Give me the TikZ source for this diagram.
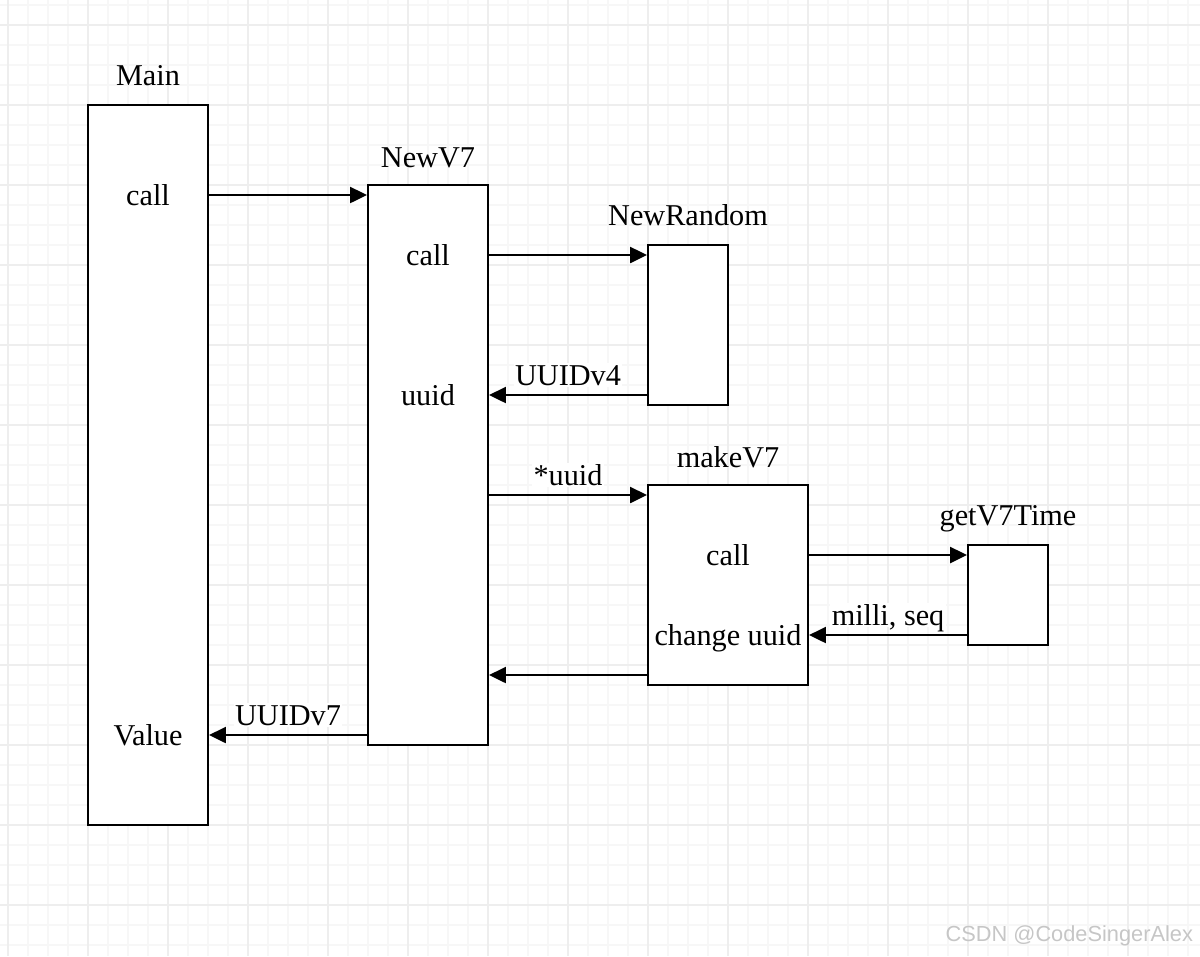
\documentclass[tikz,border=0pt]{standalone}
\usepackage{fontspec}
\setmainfont{Liberation Serif}
\setsansfont{Liberation Sans}
\usetikzlibrary{arrows.meta,positioning}

\tikzset{
    box/.style={draw, line width=1.5pt, fill=white, inner sep=0pt},
    txt/.style={font=\fontsize{21.5}{25}\selectfont, inner sep=1pt, text height=15pt, text depth=0pt},
    elabel/.style={txt, fill=white, above=5pt},
    flow/.style={line width=1.5pt, -{Triangle[length=0.42cm,width=0.4cm]}},
    minorline/.style={gray!6, line width=1pt},
    majorline/.style={gray!13, line width=1.2pt},
}

\begin{document}
\begin{tikzpicture}[x=0.025cm, y=-0.025cm]
    \useasboundingbox (0,0) rectangle (1200,956);
    % grid
    \foreach \x in {8,28,...,1188} \draw[minorline] (\x,0) -- (\x,956);
    \foreach \y in {5,25,...,945} \draw[minorline] (0,\y) -- (1200,\y);
    \foreach \x in {8,88,...,1168} \draw[majorline] (\x,0) -- (\x,956);
    \foreach \y in {25,105,...,905} \draw[majorline] (0,\y) -- (1200,\y);

    % boxes
    \node[box, minimum width=3cm, minimum height=18cm] (main) at (148,465) {};
    \node[box, minimum width=3cm, minimum height=14cm] (newv7) at (428,465) {};
    \node[box, minimum width=2cm, minimum height=4cm] (newrand) at (688,325) {};
    \node[box, minimum width=4cm, minimum height=5cm] (makev7) at (728,585) {};
    \node[box, minimum width=2cm, minimum height=2.5cm] (getv7) at (1008,595) {};

    % titles
    \node[txt] (tmain) at (148,75) {Main};
    \node[txt] (tnewv7) at (428,157) {NewV7};
    \node[txt] (tnewrand) at (688,215) {NewRandom};
    \node[txt] (tmakev7) at (728,457) {makeV7};
    \node[txt] (tgetv7) at (1008,515) {getV7Time};

    % texts inside
    \node[txt] (mcall) at (148,195) {call};
    \node[txt] (mvalue) at (148,735) {Value};
    \node[txt] (vcall) at (428,255) {call};
    \node[txt] (vuuid) at (428,395) {uuid};
    \node[txt] (kcall) at (728,555) {call};
    \node[txt] (kchange) at (728,635) {change uuid};
    \coordinate (vsend) at (428,495);
    \coordinate (kret) at (728,675);

    % calls and returns
    \draw[flow] (main.east |- mcall) -- (newv7.west |- mcall);
    \draw[flow] (newv7.east |- vcall) -- (newrand.west |- vcall);
    \draw[flow] (newrand.west |- vuuid) -- node[elabel] {UUIDv4} (newv7.east |- vuuid);
    \draw[flow] (newv7.east |- vsend) -- node[elabel] {*uuid} (makev7.west |- vsend);
    \draw[flow] (makev7.east |- kcall) -- (getv7.west |- kcall);
    \draw[flow] (getv7.west |- kchange) -- node[elabel] {milli, seq} (makev7.east |- kchange);
    \draw[flow] (makev7.west |- kret) -- (newv7.east |- kret);
    \draw[flow] (newv7.west |- mvalue) -- node[elabel] {UUIDv7} (main.east |- mvalue);

    \node[font=\fontsize{15.5}{18}\selectfont\sffamily, text=gray!45, anchor=east] (mark) at (1198,936) {CSDN @CodeSingerAlex};
\end{tikzpicture}
\end{document}
